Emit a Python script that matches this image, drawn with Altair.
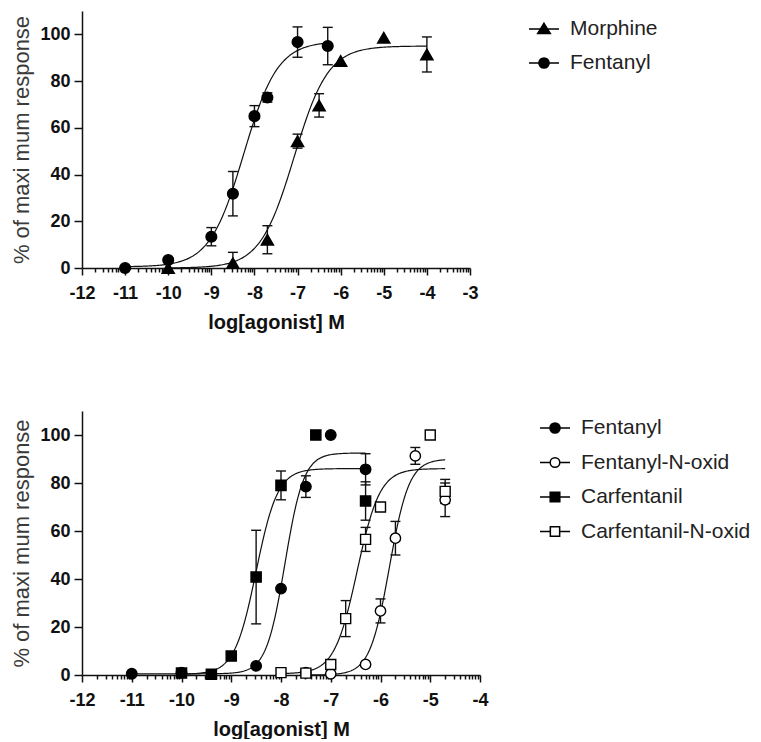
import math
import altair as alt
import pandas as pd

# ---------------- Panel A (top) ----------------
a_names = ["Morphine", "Fentanyl"]
a_morph_x = [-10, -8.5, -7.7, -7, -6.5, -6, -5, -4]
a_morph_y = [0, 2.1, 12.1, 54.3, 69.6, 88.6, 98.6, 91.4]
a_morph_err = [0, 4.6, 6, 3, 5, 0, 0, 7.5]
a_fent_x = [-11, -10, -9, -8.5, -8, -7.7, -7, -6.3]
a_fent_y = [0, 3.4, 13.4, 31.8, 65, 73, 96.7, 95]
a_fent_err = [0, 1, 3.9, 9.5, 4.5, 2, 6.5, 8]
# sigmoid fit parameters, one per series
a_fit_bottom = [0, 0.5]
a_fit_top = [95, 97]
a_fit_ec50 = [-7.08, -8.25]
a_fit_hill = [1.1, 1.1]
a_fit_start = [-10, -11]
a_fit_end = [-4, -6.3]

# ---------------- Panel B (bottom) ----------------
b_names = ["Fentanyl", "Fentanyl-N-oxid", "Carfentanil", "Carfentanil-N-oxid"]
b_fent_x = [-11, -10, -8.5, -8, -7.5, -7, -6.3]
b_fent_y = [0.5, 1, 3.8, 36, 78.5, 100, 85.7]
b_fent_err = [0, 0, 0, 0, 4.5, 0, 6.5]
b_fno_x = [-7.5, -7, -6.3, -6, -5.7, -5.3, -4.7]
b_fno_y = [1, 0.5, 4.4, 26.7, 57, 91.3, 73]
b_fno_err = [0, 0, 0, 5, 7, 3.5, 7]
b_carf_x = [-10, -9.4, -9, -8.5, -8, -7.3, -6.3]
b_carf_y = [0.8, 0.3, 7.9, 40.8, 79, 100, 72.5]
b_carf_err = [0, 0, 0, 19.5, 6, 0, 8]
b_cno_x = [-8, -7.5, -7, -6.7, -6.3, -6, -5, -4.7]
b_cno_y = [1, 0.8, 4.4, 23.5, 56.5, 70, 100, 76.5]
b_cno_err = [0, 0, 0, 7.5, 5, 0, 0, 5]
b_fit_bottom = [0.5, 0, 0.3, 0.5]
b_fit_top = [92.5, 90, 86, 86]
b_fit_ec50 = [-7.92, -5.82, -8.5, -6.47]
b_fit_hill = [2.3, 2.2, 2.0, 1.9]
b_fit_start = [-11, -7.5, -10, -8]
b_fit_end = [-6.3, -4.7, -6.3, -4.7]

FONT = "Liberation Sans"
INK = "#111111"
MAJOR = "abs(datum.value - round(datum.value)) < 0.001"

# legend symbols: line with marker, in the -1..1 unit box
L_TRI = "M-1,0H1M0,-0.38L0.42,0.3H-0.42Z"
L_CIRC_F = "M-1,0H1M-0.34,0A0.34,0.34 0 1,0 0.34,0A0.34,0.34 0 1,0 -0.34,0Z"
L_CIRC_O = "M-1,0H-0.32M0.32,0H1M-0.32,0A0.32,0.32 0 1,0 0.32,0A0.32,0.32 0 1,0 -0.32,0Z"
L_SQ_F = "M-1,0H1M-0.32,-0.32H0.32V0.32H-0.32Z"
L_SQ_O = "M-1,0H-0.31M0.31,0H1M-0.31,-0.31H0.31V0.31H-0.31Z"


def points_frame(names, xs, ys, errs):
    rows = []
    for n, xl, yl, el in zip(names, xs, ys, errs):
        for x, y, e in zip(xl, yl, el):
            rows.append({"series": n, "x": x, "y": y, "err": e})
    return pd.DataFrame(rows)


def fit_frame(names, bottom, top, ec50, hill, start, end):
    return pd.DataFrame({"series": names, "bottom": bottom, "top": top,
                         "ec50": ec50, "hill": hill, "x0": start, "x1": end})


def panel(names, pts, fit, xmax, width, height, shapes, fills, sizes,
          legend_paths, legend_x, legend_y, row_pad):
    xscale = alt.Scale(domain=[-12, xmax], nice=False, zero=False)
    yscale = alt.Scale(domain=[0, 110], nice=False, zero=False)
    ticks = []
    for n in range(-12, xmax):
        ticks.append(float(n))
        for k in range(2, 10):
            ticks.append(n + math.log10(k))
    ticks.append(float(xmax))
    xaxis = alt.Axis(
        values=ticks,
        labelExpr=f"{MAJOR} ? '' + round(datum.value) : ''",
        tickSize=7,
        tickDash={"condition": {"test": MAJOR, "value": [7, 0]}, "value": [4, 12]},
        labelOverlap=False, labelFlush=False, labelPadding=9,
        title="log[agonist] M", titleFontWeight="bold", titleFontSize=20,
        titlePadding=10, titleColor=INK,
    )
    yaxis = alt.Axis(
        values=[0, 20, 40, 60, 80, 100], tickSize=8, labelPadding=4,
        title="% of  maxi mum response", titleFontWeight="normal",
        titleFontSize=22, titlePadding=6, titleColor="#3a3a3a",
    )
    sdom = dict(domain=names)

    def X(f="x"):
        return alt.X(f"{f}:Q", scale=xscale, axis=xaxis)

    def Y(f="y"):
        return alt.Y(f"{f}:Q", scale=yscale, axis=yaxis)

    curves = (
        alt.Chart(fit)
        .transform_calculate(t="sequence(0, 201)")
        .transform_flatten(["t"])
        .transform_calculate(x="datum.x0 + (datum.x1 - datum.x0) * datum.t / 200")
        .transform_calculate(
            y="datum.bottom + (datum.top - datum.bottom) / (1 + pow(10, (datum.ec50 - datum.x) * datum.hill))")
        .mark_line(color=INK, strokeWidth=1.2)
        .encode(x=X(), y=Y(), detail="series:N", order="t:Q")
    )
    eb = (
        alt.Chart(pts)
        .transform_filter("datum.err > 0")
        .transform_calculate(lo="datum.y - datum.err", hi="datum.y + datum.err")
    )
    bars = eb.mark_rule(color=INK, strokeWidth=1.4, clip=True).encode(
        x=X(), y=Y("lo"), y2=alt.Y2("hi"))
    cap_lo = eb.mark_rule(color=INK, strokeWidth=1.4, xOffset=-5, x2Offset=5, clip=True).encode(
        x=X(), x2=alt.X2("x"), y=Y("lo"))
    cap_hi = eb.mark_rule(color=INK, strokeWidth=1.4, xOffset=-5, x2Offset=5).encode(
        x=X(), x2=alt.X2("x"), y=Y("hi"))
    marks = alt.Chart(pts).mark_point(stroke="black", strokeWidth=1.4, opacity=1, fillOpacity=1).encode(
        x=X(), y=Y(),
        shape=alt.Shape("series:N", scale=alt.Scale(range=shapes, **sdom), legend=None),
        fill=alt.Fill("series:N", scale=alt.Scale(range=fills, **sdom), legend=None),
        size=alt.Size("series:N", scale=alt.Scale(range=sizes, **sdom), legend=None),
    )
    leg = alt.Legend(
        orient="none", legendX=legend_x, legendY=legend_y, title=None,
        symbolSize=900, symbolStrokeWidth=1.5, symbolStrokeColor="black",
        symbolOpacity=1, labelFont=FONT, labelFontSize=21, labelColor="#222222",
        labelOffset=10, rowPadding=row_pad, padding=0, labelLimit=400,
    )
    legend_layer = (
        alt.Chart(pts).transform_filter("false")
        .mark_point(strokeWidth=1.5, opacity=1, fillOpacity=1)
        .encode(
            x=X(), y=Y(),
            shape=alt.Shape("series:N", scale=alt.Scale(range=legend_paths, **sdom), legend=leg),
            fill=alt.Fill("series:N", scale=alt.Scale(range=fills, **sdom), legend=leg),
            stroke=alt.Stroke("series:N", scale=alt.Scale(range=["black"] * len(names), **sdom), legend=leg),
        )
    )
    return (
        alt.layer(curves, bars, cap_lo, cap_hi, marks, legend_layer)
        .resolve_scale(shape="independent", fill="independent", stroke="independent")
        .properties(width=width, height=height)
    )


a_pts = points_frame(a_names, [a_morph_x, a_fent_x], [a_morph_y, a_fent_y], [a_morph_err, a_fent_err])
a_fit = fit_frame(a_names, a_fit_bottom, a_fit_top, a_fit_ec50, a_fit_hill, a_fit_start, a_fit_end)
b_pts = points_frame(b_names, [b_fent_x, b_fno_x, b_carf_x, b_cno_x],
                     [b_fent_y, b_fno_y, b_carf_y, b_cno_y],
                     [b_fent_err, b_fno_err, b_carf_err, b_cno_err])
b_fit = fit_frame(b_names, b_fit_bottom, b_fit_top, b_fit_ec50, b_fit_hill, b_fit_start, b_fit_end)

top = panel(a_names, a_pts, a_fit, -3, 388, 257,
            ["triangle-up", "circle"], ["black", "black"], [150, 115],
            [L_TRI, L_CIRC_F], 446, 2, 8)
bottom = panel(b_names, b_pts, b_fit, -4, 398, 264,
               ["circle", "circle", "square", "square"], ["black", "white", "black", "white"],
               [110, 100, 110, 100],
               [L_CIRC_F, L_CIRC_O, L_SQ_F, L_SQ_O], 457, 1, 8.5)

chart = (
    alt.vconcat(top, bottom, spacing=79)
    .resolve_scale(x="independent", y="independent", shape="independent", fill="independent",
                   size="independent", stroke="independent")
    .properties(padding={"top": 3, "left": 2, "right": 0, "bottom": 0})
    .configure_view(stroke=None)
    .configure_axis(
        grid=False, domainColor=INK, domainWidth=1.5, tickColor=INK, tickWidth=1.5,
        labelFont=FONT, labelFontSize=18, labelFontWeight="bold", labelColor=INK,
        titleFont=FONT,
    )
)

chart.save("out.html", embed_options={"renderer": "svg", "actions": False})
